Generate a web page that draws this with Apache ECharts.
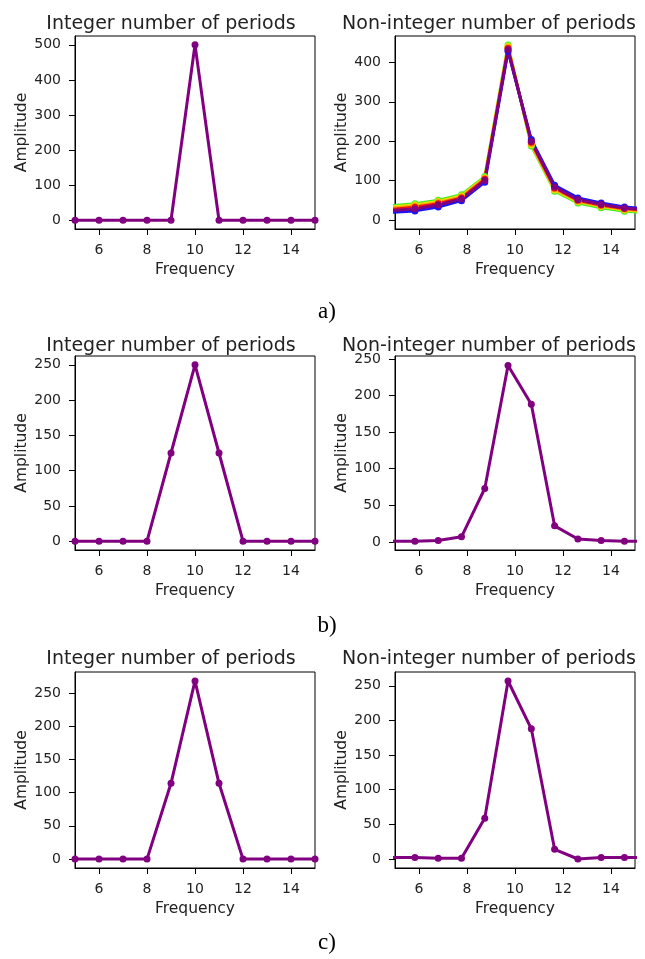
<!DOCTYPE html>
<html>
<head>
<meta charset="utf-8">
<script src="https://cdn.jsdelivr.net/npm/echarts@6/dist/echarts.min.js"></script>
<style>
  html, body { margin: 0; padding: 0; background: #fff; }
  #chart { width: 645px; height: 959px; }
</style>
</head>
<body>
<div id="chart"></div>
<script>
// 频率轴
const intFreq = [5, 6, 7, 8, 9, 10, 11, 12, 13, 14, 15]
const nonIntFreq = [4.85, 5.83, 6.80, 7.77, 8.74, 9.71, 10.68, 11.65, 12.62, 13.59, 14.56, 15.53]
const freqTicks = [6, 8, 10, 12, 14]

// a) 幅值
const aIntAmp = [0, 0, 0, 0, 0, 500, 0, 0, 0, 0, 0]
const aNonGreen = [36, 41, 50, 64, 110, 444, 188, 73, 43, 31, 22, 19]
const aNonYellow = [33, 38, 47, 61, 107, 441, 191, 76, 46, 34, 25, 21]
const aNonOrange = [30, 35, 44, 58, 105, 438, 194, 79, 48, 36, 27, 23]
const aNonRed = [27, 32, 41, 56, 103, 435, 197, 81, 50, 38, 29, 24]
const aNonBlue = [19, 23, 33, 49, 96, 428, 204, 88, 56, 43, 33, 28]
const aNonPurple = [24, 28, 38, 53, 100, 432, 200, 84, 52, 40, 30, 26]

// b) 幅值
const bIntAmp = [0, 0, 0, 0, 125, 250, 125, 0, 0, 0, 0]
const bNonIntAmp = [1, 1, 2, 7, 73, 241, 188, 22, 4, 2, 1, 1]

// c) 幅值
const cIntAmp = [0, 0, 0, 0, 114, 268, 114, 0, 0, 0, 0]
const cNonIntAmp = [2, 2, 1, 1, 59, 257, 188, 14, 0, 2, 2, 2]

// y 轴刻度与范围
const aIntTicks = [0, 100, 200, 300, 400, 500]
const aNonTicks = [0, 100, 200, 300, 400]
const bcTicks = [0, 50, 100, 150, 200, 250]
const yLimits = [[-25, 525], [-23, 467], [-12.5, 262.5], [-11, 254], [-13.4, 281.4], [-13, 270]]

const titleText = ['Integer number of periods', 'Non-integer number of periods']
const panelLabels = ['a)', 'b)', 'c)']

const font = 'DejaVu Sans'
const txt = '#222'

const pairs = (xs, ys) => xs.map((x, i) => [x, ys[i]])

const rowsTop = [36, 356, 672]
const rowsHeight = [193, 194, 196]
const colsLeft = [75, 395]
const plotWidth = 240
const titleCenterX = [166, 484]
const titleY = [10, 332, 645]
const labelY = [295, 609, 926]

const yTicksList = [aIntTicks, aNonTicks, bcTicks, bcTicks, bcTicks, bcTicks]

const grids = []
const xAxes = []
const yAxes = []
const titles = []
for (let r = 0; r < 3; r++) {
  for (let c = 0; c < 2; c++) {
    const i = r * 2 + c
    grids.push({
      left: colsLeft[c], top: rowsTop[r], width: plotWidth, height: rowsHeight[r],
      show: true, borderColor: '#000', borderWidth: 1, backgroundColor: '#fff'
    })
    xAxes.push({
      type: 'value', gridIndex: i, min: 5, max: 15,
      name: 'Frequency', nameLocation: 'middle', nameGap: 33,
      nameTextStyle: { fontFamily: font, fontSize: 15.5, color: txt },
      axisLine: { show: true, onZero: false, lineStyle: { color: '#000', width: 1 } },
      axisTick: { show: true, length: 6, lineStyle: { color: '#000' }, customValues: freqTicks },
      axisLabel: { fontFamily: font, fontSize: 14, color: txt, margin: 14, customValues: freqTicks },
      splitLine: { show: false }
    })
    yAxes.push({
      type: 'value', gridIndex: i, min: yLimits[i][0], max: yLimits[i][1],
      name: 'Amplitude', nameLocation: 'middle', nameGap: 44,
      nameTextStyle: { fontFamily: font, fontSize: 15.5, color: txt },
      axisLine: { show: true, onZero: false, lineStyle: { color: '#000', width: 1 } },
      axisTick: { show: true, length: 6, lineStyle: { color: '#000' }, customValues: yTicksList[i] },
      axisLabel: { fontFamily: font, fontSize: 14, color: txt, margin: 14, customValues: yTicksList[i] },
      splitLine: { show: false }
    })
    titles.push({
      text: titleText[c], left: titleCenterX[c], top: titleY[r], textAlign: 'center',
      textStyle: { fontFamily: font, fontSize: 19, fontWeight: 'normal', color: txt }
    })
  }
  titles.push({
    text: panelLabels[r], left: 322, top: labelY[r], textAlign: 'center',
    textStyle: { fontFamily: 'Liberation Serif', fontSize: 23, fontWeight: 'normal', color: '#000' }
  })
}

const mkLine = (idx, xs, ys, color) => ({
  type: 'line', xAxisIndex: idx, yAxisIndex: idx,
  data: pairs(xs, ys), clip: true,
  symbol: 'circle', symbolSize: 7, showSymbol: true,
  lineStyle: { color, width: 3 }, itemStyle: { color },
  animation: false
})

const purple = '#800080'
const series = [
  mkLine(0, intFreq, aIntAmp, purple),
  mkLine(1, nonIntFreq, aNonGreen, '#44ee22'),
  mkLine(1, nonIntFreq, aNonYellow, '#eedd00'),
  mkLine(1, nonIntFreq, aNonOrange, '#ff9900'),
  mkLine(1, nonIntFreq, aNonRed, '#ee1111'),
  mkLine(1, nonIntFreq, aNonBlue, '#1515ff'),
  mkLine(1, nonIntFreq, aNonPurple, purple),
  mkLine(2, intFreq, bIntAmp, purple),
  mkLine(3, nonIntFreq, bNonIntAmp, purple),
  mkLine(4, intFreq, cIntAmp, purple),
  mkLine(5, nonIntFreq, cNonIntAmp, purple)
]

const myChart = echarts.init(document.getElementById('chart'), null, { renderer: 'canvas' })
myChart.setOption({
  backgroundColor: '#fff',
  animation: false,
  title: titles,
  grid: grids,
  xAxis: xAxes,
  yAxis: yAxes,
  series
})
</script>
</body>
</html>
